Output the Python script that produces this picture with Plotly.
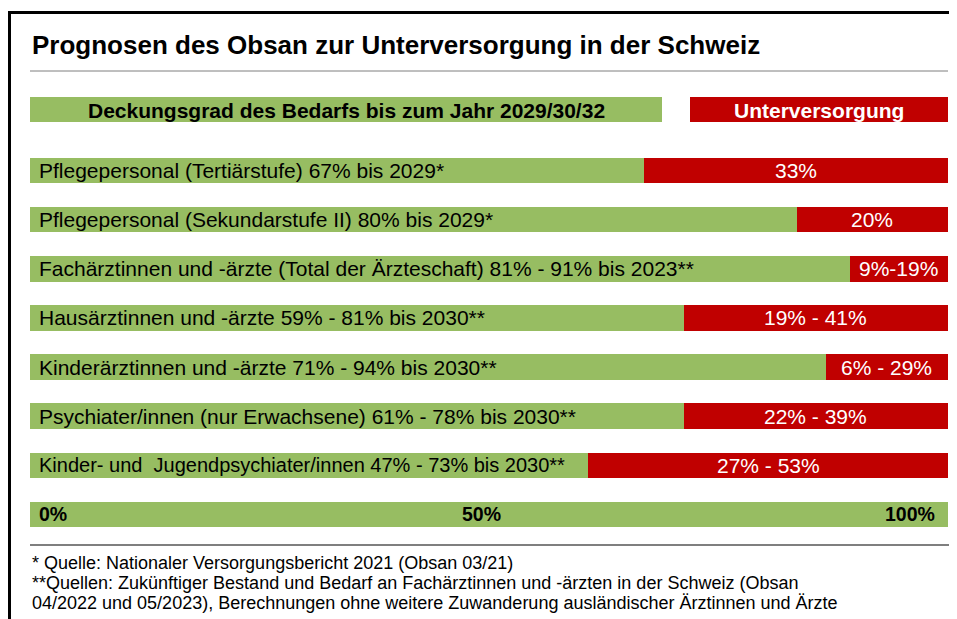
import plotly.graph_objects as go

# ---------------- data ----------------
row_keys = ["Pflege T", "Pflege S", "Fach", "Haus", "Kinder", "Psych", "KJP"]
row_labels = [
    "Pflegepersonal (Tertiärstufe) 67% bis 2029*",
    "Pflegepersonal (Sekundarstufe II) 80% bis 2029*",
    "Fachärztinnen und -ärzte (Total der Ärzteschaft) 81% - 91% bis 2023**",
    "Hausärztinnen und -ärzte 59% - 81% bis 2030**",
    "Kinderärztinnen und -ärzte 71% - 94% bis 2030**",
    "Psychiater/innen (nur Erwachsene) 61% - 78% bis 2030**",
    "Kinder- und  Jugendpsychiater/innen 47% - 73% bis 2030**",
]
coverage = [66.9, 83.5, 89.3, 71.2, 86.7, 71.2, 60.8]     # drawn green length (%)
shortfall = [33.1, 16.5, 10.7, 28.8, 13.3, 28.8, 39.2]    # drawn red length (%)
shortfall_labels = ["33%", "20%", "9%-19%", "19% - 41%", "6% - 29%", "22% - 39%", "27% - 53%"]

scale_key = "Skala"
scale_total = [100]
tick_values = [0, 50, 100]
tick_labels = ["0%", "50%", "100%"]

title_text = "Prognosen des Obsan zur Unterversorgung in der Schweiz"
header_green = "Deckungsgrad des Bedarfs bis zum Jahr 2029/30/32"
header_red = "Unterversorgung"
footnote_lines = [
    "* Quelle: Nationaler Versorgungsbericht 2021 (Obsan 03/21)",
    "**Quellen: Zukünftiger Bestand und Bedarf an Fachärztinnen und -ärzten in der Schweiz (Obsan",
    "04/2022 und 05/2023), Berechnungen ohne weitere Zuwanderung ausländischer Ärztinnen und Ärzte",
]

# ---------------- style ----------------
GREEN = "#97BD62"
RED = "#C00000"
FONT = "Liberation Sans, Arial, sans-serif"
LABEL_SIZES = [21, 21, 21, 21, 21, 21, 20]   # last label is compressed in the original
OFF = 8                       # page body margin
W, H = 957 - OFF, 619 - OFF
# plot area in page pixels: x 30..948, y 146..539
L, R, T, B = 30 - OFF, W - (948 - OFF), 146 - OFF, H - (539 - OFF)
PW, PH = W - L - R, H - T - B


def px(x):
    """page pixel x -> paper"""
    return (x - OFF - L) / PW


def py(y):
    """page pixel y -> paper"""
    return 1 - (y - OFF - T) / PH


cats = row_keys + [scale_key]

fig = go.Figure()
fig.add_trace(go.Bar(y=row_keys, x=coverage, orientation="h", marker=dict(color=GREEN, line_width=0),
                     hoverinfo="skip", showlegend=False))
fig.add_trace(go.Bar(y=row_keys, x=shortfall, orientation="h", marker=dict(color=RED, line_width=0),
                     hoverinfo="skip", showlegend=False))
fig.add_trace(go.Bar(y=[scale_key], x=scale_total, orientation="h", marker=dict(color=GREEN, line_width=0),
                     hoverinfo="skip", showlegend=False))

annotations = []
for k, lab, fs in zip(row_keys, row_labels, LABEL_SIZES):
    annotations.append(dict(x=0, y=k, xref="x", yref="y", text=lab, showarrow=False,
                            xanchor="left", yanchor="middle", xshift=7,
                            font=dict(family=FONT, size=fs, color="black")))
for k, c, s, lab in zip(row_keys, coverage, shortfall, shortfall_labels):
    annotations.append(dict(x=c + s / 2, y=k, xref="x", yref="y", text=lab, showarrow=False,
                            xanchor="center", yanchor="middle",
                            font=dict(family=FONT, size=21, color="white")))
anchors = ["left", "center", "right"]
shifts = [7, -8, -11]
for v, lab, a, sh in zip(tick_values, tick_labels, anchors, shifts):
    annotations.append(dict(x=v, y=scale_key, xref="x", yref="y", text="<b>" + lab + "</b>", showarrow=False,
                            xanchor=a, yanchor="middle", xshift=sh,
                            font=dict(family=FONT, size=19.5, color="black")))

# title
annotations.append(dict(x=px(30), y=py(45), xref="paper", yref="paper", text="<b>" + title_text + "</b>",
                        showarrow=False, xanchor="left", yanchor="middle",
                        font=dict(family=FONT, size=26, color="black")))
# header texts
annotations.append(dict(x=px(346), y=py(110), xref="paper", yref="paper", text="<b>" + header_green + "</b>",
                        showarrow=False, xanchor="center", yanchor="middle",
                        font=dict(family=FONT, size=21, color="black")))
annotations.append(dict(x=px(819), y=py(110), xref="paper", yref="paper", text="<b>" + header_red + "</b>",
                        showarrow=False, xanchor="center", yanchor="middle",
                        font=dict(family=FONT, size=21, color="white")))
# footnotes
for i, line in enumerate(footnote_lines):
    annotations.append(dict(x=px(30), y=py(563 + 20 * i), xref="paper", yref="paper", text=line,
                            showarrow=False, xanchor="left", yanchor="middle", align="left",
                            font=dict(family=FONT, size=18, color="black")))

shapes = [
    # frame (left + top)
    dict(type="line", xref="paper", yref="paper", x0=px(9.5), x1=px(9.5), y0=py(11), y1=py(640),
         line=dict(color="black", width=3)),
    dict(type="line", xref="paper", yref="paper", x0=px(8), x1=px(970), y0=py(12.5), y1=py(12.5),
         line=dict(color="black", width=3)),
    # rule under title
    dict(type="line", xref="paper", yref="paper", x0=px(30), x1=px(948), y0=py(71), y1=py(71),
         line=dict(color="#7F7F7F", width=1)),
    # header boxes
    dict(type="rect", xref="paper", yref="paper", x0=px(30), x1=px(662), y0=py(122), y1=py(97),
         fillcolor=GREEN, line_width=0, layer="below"),
    dict(type="rect", xref="paper", yref="paper", x0=px(690), x1=px(948), y0=py(122), y1=py(97),
         fillcolor=RED, line_width=0, layer="below"),
    # rule above footnotes
    dict(type="line", xref="paper", yref="paper", x0=px(30), x1=px(950), y0=py(545), y1=py(545),
         line=dict(color="#7F7F7F", width=2)),
]

fig.update_layout(
    width=W, height=H,
    margin=dict(l=L, r=R, t=T, b=B, pad=0),
    paper_bgcolor="white", plot_bgcolor="white",
    barmode="stack", bargap=0.48,
    xaxis=dict(range=[0, 100], visible=False, fixedrange=True),
    yaxis=dict(categoryorder="array", categoryarray=cats, range=[len(cats) - 0.5, -0.5],
               visible=False, fixedrange=True),
    annotations=annotations, shapes=shapes,
    showlegend=False,
)

fig.write_html("out.html", config={"displayModeBar": False})
